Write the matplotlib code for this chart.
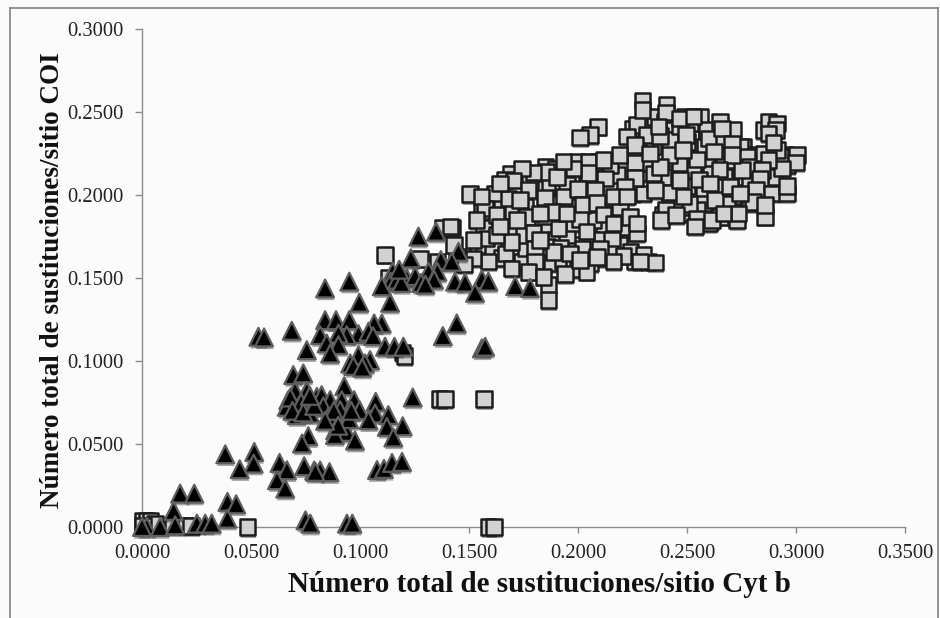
import matplotlib
matplotlib.use("Agg")
import matplotlib.pyplot as plt
import matplotlib.patheffects as pe
from matplotlib.lines import Line2D

plt.rcParams['font.family'] = ['Liberation Serif', 'DejaVu Serif']

# squares (x = Cyt b, y = COI)
# the ones further back in the crowd come first
squares_back = [
    (.1540,.1660),(.1570,.1700),(.1610,.1680),(.1650,.1620),(.1700,.1640),(.1740,.1600),(.1760,.1680),(.1740,.1760),
    (.1680,.1790),(.1610,.1830),(.1570,.1800),(.1560,.1900),(.1600,.1940),(.1650,.1930),(.1700,.1900),(.1760,.1930),
    (.1800,.1840),(.1850,.1830),(.1860,.1780),(.1900,.1730),(.1860,.1690),(.1840,.1630),(.1880,.1590),(.1930,.1600),
    (.1980,.1580),(.1990,.1700),(.1950,.1760),(.1980,.1830),(.1960,.1930),(.1900,.1950),(.1860,.2050),(.1800,.2040),
    (.1720,.2040),(.1620,.2010),(.1690,.2130),(.1780,.2090),(.1850,.2170),(.1900,.2160),(.1950,.2060),(.2040,.2080),
    (.2090,.2120),(.2050,.1980),(.2110,.1980),(.2150,.2040),(.2180,.2120),(.2090,.2200),(.2000,.2200),(.2150,.2180),
    (.2180,.1960),(.2120,.1820),(.2070,.1850),(.2060,.1730),(.2110,.1730),(.2190,.1760),(.2190,.1700),(.2130,.1620),
    (.2060,.1640),(.2000,.1550),(.1920,.1680),(.2240,.1660),(.2260,.1600),(.2320,.1600),(.2210,.1820),(.2250,.2010),
    (.2300,.2010),(.2290,.2130),(.2340,.2190),(.2260,.2240),(.2280,.2340),(.2250,.2400),(.2300,.2430),(.2350,.2470),
    (.2400,.2440),(.2440,.2390),(.2520,.2380),(.2490,.2470),(.2550,.2430),(.2630,.2380),(.2650,.2320),(.2580,.2290),
    (.2500,.2320),(.2420,.2280),(.2380,.2250),(.2510,.2220),(.2590,.2190),(.2670,.2190),(.2720,.2210),(.2760,.2290),
    (.2790,.2240),(.2740,.2100),(.2670,.2110),(.2610,.2130),(.2500,.2130),(.2420,.2170),(.2350,.2070),(.2440,.2010),
    (.2530,.2010),(.2590,.1980),(.2640,.2010),(.2730,.2050),(.2780,.2010),(.2790,.1950),(.2700,.1910),(.2620,.1910),
    (.2560,.1890),(.2480,.1890),(.2420,.1950),(.2390,.1880),(.2600,.1830),(.2720,.1870),(.2830,.2090),(.2860,.2010),
    (.2900,.2070),(.2900,.2170),(.2960,.2180),(.2950,.2240),(.2850,.2390),(.2880,.2410),(.2420,.2100),(.2770,.2110),
]
squares_upper = [
    (.2270,.2422),(.2224,.2351),(.2560,.2472),(.2514,.2432),(.2713,.2392),(.2744,.2291),(.2775,.2231),(.2790,.2170),
    (.2591,.2392),(.2423,.2331),(.2346,.2291),(.2316,.2191),(.2530,.2150),(.2438,.2130),(.2407,.2070),(.2499,.2050),
    (.2576,.2030),(.2668,.2050),(.2790,.2070),(.2713,.1990),(.2576,.1949),(.2683,.1949),(.2469,.1929),(.2652,.1869),
    (.2729,.1849),(.2928,.2231),(.2912,.2271),(.2851,.2251),(.2897,.2110),(.2836,.2050),(.2392,.2110),(.2545,.1909),
    (.2296,.2568),(.2296,.2512),(.2407,.2542),(.2404,.2498),(.2466,.2412),(.2469,.2462),(.2530,.2472),(.2316,.2361),
    (.2377,.2355),(.2262,.2301),(.2369,.2412),(.2496,.2361),(.2599,.2341),(.2652,.2442),(.2660,.2402),(.2706,.2311),
    (.2874,.2442),(.2912,.2432),(.2909,.2392),(.2874,.2371),(.2897,.2317),(.3004,.2241),(.3001,.2195),(.2935,.2160),
    (.2874,.2211),(.2844,.2150),(.2836,.2100),(.2752,.2150),(.2706,.2241),(.2625,.2261),(.2545,.2215),(.2466,.2191),
    (.2420,.2241),(.2481,.2271),(.2262,.2195),(.2262,.2104),(.2190,.2241),(.2346,.2130),(.2649,.2154),(.2554,.2094),
    (.2423,.2014),(.2354,.2030),(.2817,.2030),(.2889,.2010),(.2958,.2010),(.2958,.2054),(.2802,.1959),(.2629,.1969),
    (.2511,.1945),(.2404,.1909),(.2381,.1849),(.2450,.1879),(.2545,.1859),(.2614,.1849),(.2537,.1809),(.2859,.1869),
    (.2736,.1889),(.2859,.1939),(.2698,.2050),(.2606,.2070),(.2469,.2090),(.2377,.2170),(.2331,.2251),(.2744,.2010),
    (.2668,.1889),(.2484,.1990),
]
squares_left = [
    (.2092,.2410),(.2056,.2361),(.2010,.2347),(.2048,.2201),(.2048,.2134),(.2124,.2100),(.1854,.2140),(.1795,.2136),
    (.1742,.2160),(.1665,.2090),(.1704,.2086),(.1772,.2030),(.1849,.1986),(.1936,.1990),(.1999,.2036),(.2078,.2030),
    (.2216,.2050),(.1681,.1979),(.1574,.1919),(.1505,.2006),(.1558,.1990),(.2020,.1939),(.2086,.1953),(.2193,.1929),
    (.2117,.1883),(.2010,.1853),(.1880,.1899),(.1765,.1869),(.1910,.1799),(.1795,.1772),(.2224,.1803),(.2270,.1768),
    (.2155,.1728),(.2147,.1648),(.2209,.1634),(.2300,.1638),(.2354,.1594),(.2285,.1598),(.2056,.1588),(.2020,.1674),
    (.1887,.1658),(.1803,.1678),(.1803,.1598),(.1941,.1523),(.2040,.1537),(.1864,.1457),(.1864,.1366),(.1668,.1648),
    (.1589,.1598),(.1520,.1618),(.1581,.1738),(.1696,.1718),(.1421,.1805),(.1520,.1728),(.1535,.1849),(.1627,.1758),
    (.1627,.1879),(.1719,.1849),(.1826,.1728),(.1964,.1648),(.2101,.1678),(.2040,.1779),(.2163,.1829),(.1948,.1889),
    (.1826,.1889),(.1734,.1969),(.1642,.2070),(.1903,.2110),(.1979,.2160),(.2117,.2211),(.1933,.2201),(.2163,.1990),
    (.2239,.1869),(.2270,.1829),(.1696,.1557),(.1772,.1537),(.1841,.1507),(.2010,.1608),(.2086,.1628),(.2163,.1598),
    (.2224,.1990),(.1642,.1809),
]
squares_lower = [
    (.1275,.1615),(.1355,.1600),(.1445,.1625),(.1480,.1580),(.1430,.1700),(.1115,.1640),(.1380,.1800),(.1415,.1810),
    (.1195,.1050),(.1205,.1030),(.1130,.1500),(.1365,.0770),(.1390,.0770),(.1570,.0770),(.1590,.0000),(.1615,.0000),
    (.0485,.0000),(.0005,.0035),(.0020,.0040),(.0040,.0040),(.0060,.0020),(.0005,.0010),(.0140,.0010),(.0200,.0010),
    (.0225,.0005),
]

# triangles
triangles_upper = [
    (.1268,.1749),(.1349,.1779),(.1233,.1618),(.1371,.1608),(.1452,.1658),(.1421,.1598),(.1150,.1538),(.1141,.1478),
    (.1215,.1498),(.1253,.1512),(.1314,.1538),(.1355,.1538),(.1436,.1478),(.1482,.1472),(.1559,.1492),(.1589,.1478),
    (.1528,.1411),(.1712,.1451),(.1780,.1440),(.1138,.1351),(.0951,.1478),(.0840,.1437),(.0997,.1351),(.0840,.1246),
    (.0890,.1246),(.0951,.1246),(.1100,.1226),(.1065,.1226),(.0993,.1162),(.0939,.1156),(.0817,.1156),(.0901,.1166),
    (.1039,.1176),(.0847,.1106),(.0901,.1096),(.0863,.1045),(.0756,.1065),(.0687,.1182),(.0534,.1146),(.0560,.1142),
    (.0993,.1035),(.0955,.0985),(.1046,.1005),(.1023,.0985),(.1115,.1086),(.1158,.1086),(.1199,.1086),(.1444,.1226),
    (.1380,.1150),(.1559,.1076),(.1574,.1086),(.1170,.1490),(.1190,.1470),(.1280,.1470),(.1340,.1490),(.1300,.1460),
    (.1180,.1550),(.1100,.1450),(.0970,.0970),(.1010,.0960),(.1060,.1150),
]
triangles_middle = [
    (.0694,.0915),(.0740,.0925),(.0928,.0848),(.1242,.0780),(.0702,.0820),(.0756,.0820),(.0671,.0764),(.0802,.0784),
    (.0824,.0794),(.0863,.0764),(.0916,.0764),(.0973,.0764),(.1072,.0754),(.0998,.0704),(.1069,.0684),(.1130,.0674),
    (.0832,.0728),(.0909,.0704),(.0710,.0674),(.0664,.0724),(.0771,.0684),(.0855,.0664),(.0886,.0583),(.0939,.0573),
    (.1123,.0603),(.1196,.0607),(.1039,.0643),(.0763,.0547),(.1153,.0539),(.0734,.0503),(.0977,.0520),(.0885,.0554),
    (.0680,.0780),(.0730,.0750),(.0690,.0700),(.0740,.0690),(.0790,.0730),(.0880,.0700),(.0950,.0650),(.0900,.0610),
    (.0840,.0640),(.0770,.0790),(.0960,.0700),
]
triangles_lower = [
    (.0817,.0340),(.0860,.0330),(.0790,.0340),(.1078,.0343),(.1110,.0350),(.1147,.0386),(.1193,.0392),(.0382,.0438),
    (.0515,.0452),(.0512,.0382),(.0448,.0348),(.0631,.0386),(.0665,.0342),(.0619,.0282),(.0657,.0231),(.0744,.0366),
    (.0795,.0332),(.0175,.0201),(.0240,.0201),(.0392,.0151),(.0432,.0137),(.0145,.0097),(.0392,.0050),(.0022,.0000),
    (.0083,.0000),(.0252,.0020),(.0290,.0020),(.0320,.0020),(.0152,.0010),(.0000,.0000),(.0750,.0040),(.0772,.0020),
    (.0940,.0020),(.0965,.0020),
]

xticks = [0, .05, .1, .15, .2, .25, .3, .35]
yticks = [0, .05, .1, .15, .2, .25, .3]
xlabel = "Número total de sustituciones/sitio Cyt b"
ylabel = "Número total de sustituciones/sitio COI"

bg = "#fbfbfb"
fig = plt.figure(figsize=(9.4, 6.18), dpi=100, facecolor=bg)
ax = fig.add_axes([142/940, 91/618, 763/940, 498/618], facecolor=bg)

shadow = [pe.SimplePatchShadow(offset=(0.5, -2), alpha=0.35, shadow_rgbFace="#000000"), pe.Normal()]

sq = squares_back + squares_upper + squares_left + squares_lower
ax.scatter([p[0] for p in sq], [p[1] for p in sq], marker="s", s=125, c="#d2d2d2",
           edgecolors="#1c1c1c", linewidths=1.8, clip_on=False, zorder=3, path_effects=shadow)
tri = triangles_upper + triangles_middle + triangles_lower
ax.scatter([p[0] for p in tri], [p[1] for p in tri], marker="^", s=165, c="#000000",
           edgecolors="#5e5e5e", linewidths=1.6, clip_on=False, zorder=4, path_effects=shadow)

ax.set_xlim(0, .35)
ax.set_ylim(0, .3)
ax.set_xticks(xticks)
ax.set_yticks(yticks)
ax.set_xticklabels(["%.4f" % v for v in xticks])
ax.set_yticklabels(["%.4f" % v for v in yticks])
ax.tick_params(axis="both", length=5, width=1, color="#8c8c8c", labelsize=14.8, labelcolor="#222222", pad=8)
ax.tick_params(axis="x", length=4, pad=8)
for side in ["top", "right"]:
    ax.spines[side].set_visible(False)
for side in ["left", "bottom"]:
    ax.spines[side].set_color("#8c8c8c")
    ax.spines[side].set_linewidth(1)

fig.text(539/940, 1 - 584/618, xlabel, fontsize=21, fontweight="bold", ha="center", va="center", color="#111111")
fig.text(53/940, 1 - 280/618, ylabel, fontsize=19.5, fontweight="bold", ha="center", va="center",
         rotation=90, color="#111111")

# frame of the pasted chart
for xs, ys in [((10, 10), (8, 618)), ((10, 938), (8, 8)), ((938, 938), (8, 618))]:
    fig.add_artist(Line2D([x/940 for x in xs], [1 - y/618 for y in ys], color="#8a8a8a", lw=1.3))

fig.savefig("out.png", dpi=100, facecolor=bg)
